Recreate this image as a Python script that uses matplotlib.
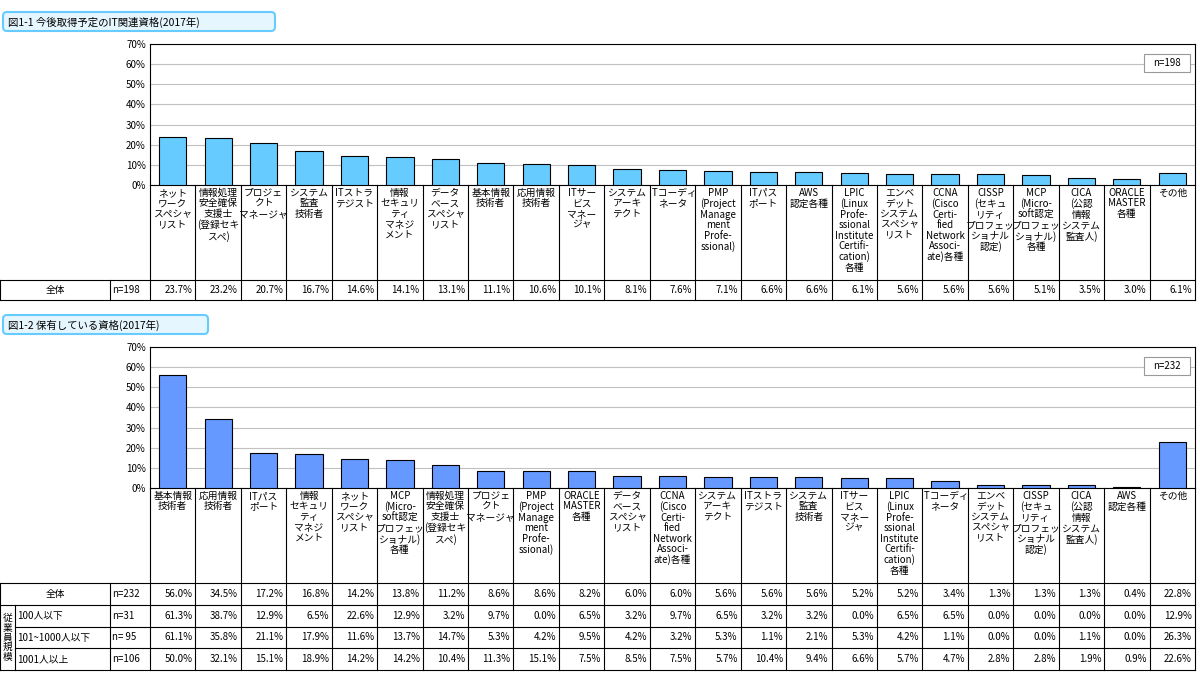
import matplotlib
matplotlib.use("Agg")
import matplotlib.pyplot as plt
from matplotlib.patches import FancyBboxPatch, Rectangle

plt.rcParams['font.family'] = ['Noto Sans CJK JP', 'DejaVu Sans']

labels1 = ["ネット\nワーク\nスペシャ\nリスト", "情報処理\n安全確保\n支援士\n(登録セキ\nスペ)", "プロジェ\nクト\nマネージャ",
           "システム\n監査\n技術者", "ITストラ\nテジスト", "情報\nセキュリ\nティ\nマネジ\nメント",
           "データ\nベース\nスペシャ\nリスト", "基本情報\n技術者", "応用情報\n技術者", "ITサー\nビス\nマネー\nジャ",
           "システム\nアーキ\nテクト", "ITコーディ\nネータ", "PMP\n(Project\nManage\nment\nProfe-\nssional)",
           "ITパス\nポート", "AWS\n認定各種", "LPIC\n(Linux\nProfe-\nssional\nInstitute\nCertifi-\ncation)\n各種",
           "エンベ\nデット\nシステム\nスペシャ\nリスト", "CCNA\n(Cisco\nCerti-\nfied\nNetwork\nAssoci-\nate)各種",
           "CISSP\n(セキュ\nリティ\nプロフェッ\nショナル\n認定)", "MCP\n(Micro-\nsoft認定\nプロフェッ\nショナル)\n各種",
           "CICA\n(公認\n情報\nシステム\n監査人)", "ORACLE\nMASTER\n各種", "その他"]
values1 = [23.7, 23.2, 20.7, 16.7, 14.6, 14.1, 13.1, 11.1, 10.6, 10.1, 8.1, 7.6, 7.1, 6.6, 6.6, 6.1, 5.6, 5.6, 5.6, 5.1, 3.5, 3.0, 6.1]
n1 = "n=198"

order2 = [7, 8, 13, 5, 0, 19, 1, 2, 12, 21, 6, 17, 10, 4, 3, 9, 15, 11, 16, 18, 20, 14, 22]
labels2 = [labels1[i] for i in order2]
values2 = [56.0, 34.5, 17.2, 16.8, 14.2, 13.8, 11.2, 8.6, 8.6, 8.2, 6.0, 6.0, 5.6, 5.6, 5.6, 5.2, 5.2, 3.4, 1.3, 1.3, 1.3, 0.4, 22.8]
n2 = "n=232"
group_names = ["100人以下", "101~1000人以下", "1001人以上"]
group_n = ["n=31", "n= 95", "n=106"]
group_vals = [
    [61.3, 38.7, 12.9, 6.5, 22.6, 12.9, 3.2, 9.7, 0.0, 6.5, 3.2, 9.7, 6.5, 3.2, 3.2, 0.0, 6.5, 6.5, 0.0, 0.0, 0.0, 0.0, 12.9],
    [61.1, 35.8, 21.1, 17.9, 11.6, 13.7, 14.7, 5.3, 4.2, 9.5, 4.2, 3.2, 5.3, 1.1, 2.1, 5.3, 4.2, 1.1, 0.0, 0.0, 1.1, 0.0, 26.3],
    [50.0, 32.1, 15.1, 18.9, 14.2, 14.2, 10.4, 11.3, 15.1, 7.5, 8.5, 7.5, 5.7, 10.4, 9.4, 6.6, 5.7, 4.7, 2.8, 2.8, 1.9, 0.9, 22.6],
]
title1 = "図1-1 今後取得予定のIT関連資格(2017年)"
title2 = "図1-2 保有している資格(2017年)"

W, H = 1200, 680
fig = plt.figure(figsize=(12, 6.8), dpi=100)
X0, X1 = 150, 1195
N = len(values1)
cw = (X1 - X0) / N
FS = 7

ov = fig.add_axes([0, 0, 1, 1], zorder=5)
ov.set_xlim(0, W); ov.set_ylim(H, 0); ov.axis('off'); ov.patch.set_alpha(0)

def bar_axes(ytop, ybot, vals, color):
    ax = fig.add_axes([X0 / W, (H - ybot) / H, (X1 - X0) / W, (ybot - ytop) / H])
    ax.bar(range(len(vals)), vals, width=0.6, color=color, edgecolor='black', linewidth=0.8, zorder=3)
    ax.set_xlim(-0.5, len(vals) - 0.5); ax.set_ylim(0, 70)
    ax.set_yticks(range(0, 71, 10))
    ax.set_yticklabels([f"{v}%" for v in range(0, 71, 10)], fontsize=FS)
    ax.set_xticks([])
    ax.tick_params(axis='y', length=0, pad=3)
    ax.yaxis.grid(True, color='#c0c0c0', linewidth=0.8, zorder=0)
    for s in ax.spines.values():
        s.set_color('black'); s.set_linewidth(0.8)
    return ax

def title_box(y, text, w):
    ov.add_patch(FancyBboxPatch((3, y), w, 19, boxstyle="round,pad=0,rounding_size=4",
                                facecolor='#E6F6FF', edgecolor='#66CCFF', linewidth=1.5))
    ov.text(8, y + 10, text, fontsize=7.5, va='center', ha='left')

def nbox(x, y, text):
    ov.add_patch(Rectangle((x, y), 46, 18, facecolor='white', edgecolor='#999999', linewidth=0.8))
    ov.text(x + 23, y + 9, text, fontsize=FS, ha='center', va='center')

def lbl(i, ytop, text):
    ov.text(X0 + cw * (i + 0.5), ytop + 3, text, fontsize=FS, ha='center', va='top', linespacing=1.05)

def val(i, y, v):
    ov.text(X0 + cw * (i + 1) - 3, y, f"{v:.1f}%", fontsize=FS, ha='right', va='center')

lw = 0.8
# Chart 1
title_box(12, title1, 272)
bar_axes(44, 185, values1, '#66CCFF')
nbox(1144, 54, n1)
for i, t in enumerate(labels1):
    lbl(i, 185, t)
for i in range(N + 1):
    ov.plot([X0 + cw * i] * 2, [185, 300], color='black', lw=lw)
for y in (280, 300):
    ov.plot([0, X1], [y, y], color='black', lw=lw)
for x in (0, 110):
    ov.plot([x, x], [280, 300], color='black', lw=lw)
ov.text(55, 290, "全体", fontsize=FS, ha='center', va='center')
ov.text(112, 290, n1, fontsize=FS, ha='left', va='center')
for i, v in enumerate(values1):
    val(i, 290, v)

# Chart 2
title_box(315, title2, 205)
bar_axes(347, 488, values2, '#6699FF')
nbox(1144, 357, n2)
for i, t in enumerate(labels2):
    lbl(i, 488, t)
for i in range(N + 1):
    ov.plot([X0 + cw * i] * 2, [488, 670], color='black', lw=lw)
rows = [583, 605, 627, 648, 670]
for k, y in enumerate(rows):
    ov.plot([0 if k < 2 or k == 4 else 15, X1], [y, y], color='black', lw=lw)
ov.plot([0, 0], [583, 670], color='black', lw=lw)
ov.plot([15, 15], [605, 670], color='black', lw=lw)
ov.plot([110, 110], [583, 670], color='black', lw=lw)
ov.text(55, 594, "全体", fontsize=FS, ha='center', va='center')
ov.text(112, 594, n2, fontsize=FS, ha='left', va='center')
for i, v in enumerate(values2):
    val(i, 594, v)
ov.text(7.5, 637.5, "従\n業\n員\n規\n模", fontsize=FS, ha='center', va='center', linespacing=0.95)
for g in range(3):
    yc = (rows[g + 1] + rows[g + 2]) / 2
    ov.text(17, yc, group_names[g], fontsize=FS, ha='left', va='center')
    ov.text(112, yc, group_n[g], fontsize=FS, ha='left', va='center')
    for i, v in enumerate(group_vals[g]):
        val(i, yc, v)

fig.savefig("out.png", dpi=100, facecolor='white')
